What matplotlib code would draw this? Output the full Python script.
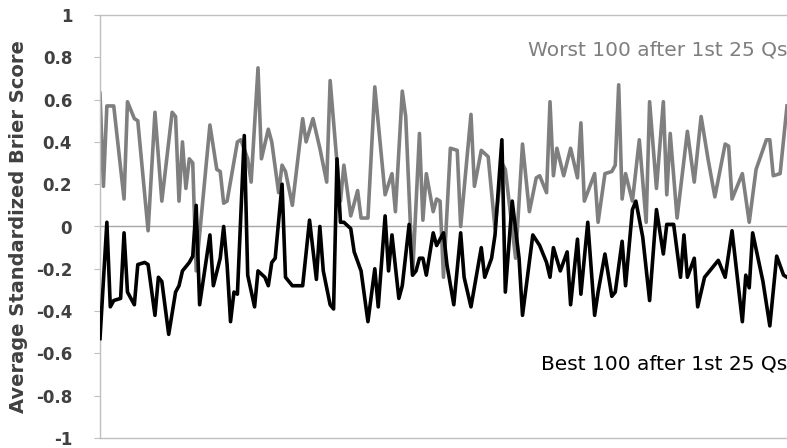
import matplotlib
matplotlib.use("Agg")
import matplotlib.pyplot as plt

plt.rcParams['font.family'] = ['DejaVu Sans']

# Question number (x) and average standardized Brier score (y)
worst_q = [1, 2, 3, 5, 8, 9, 11, 12, 15, 17, 19, 22, 23, 24, 25, 26, 27, 28, 29, 33,
           35, 36, 37, 38, 41, 42, 44, 45, 47, 48, 50, 51, 53, 54, 55, 57, 60, 61, 63, 65,
           67, 68, 70, 71, 72, 74, 76, 77, 79, 81, 84, 86, 87, 89, 90, 92, 94, 95, 96, 98,
           99, 100, 101, 103, 105, 106, 109, 110, 112, 114, 116, 118, 119, 120, 122, 124, 126, 128, 129, 131,
           132, 133, 134, 136, 138, 140, 141, 142, 145, 146, 148, 150, 151, 152, 153, 154, 156, 158, 160, 161,
           163, 165, 166, 167, 169, 172, 174, 176, 178, 180, 183, 184, 185, 188, 190, 192, 195, 196, 197, 199,
           201]
worst_score = [0.63, 0.19, 0.57, 0.57, 0.13, 0.59, 0.51, 0.50, -0.02, 0.54,
               0.12, 0.54, 0.52, 0.12, 0.40, 0.18, 0.32, 0.30, -0.21, 0.48,
               0.27, 0.26, 0.11, 0.12, 0.40, 0.41, 0.32, 0.21, 0.75, 0.32,
               0.46, 0.40, 0.16, 0.29, 0.26, 0.10, 0.51, 0.40, 0.51, 0.37,
               0.21, 0.69, 0.30, 0.12, 0.29, 0.05, 0.17, 0.04, 0.04, 0.66,
               0.15, 0.25, 0.07, 0.64, 0.52, -0.23, 0.44, 0.03, 0.25, 0.07,
               0.13, 0.12, -0.24, 0.37, 0.36, 0.0, 0.53, 0.19, 0.36, 0.33,
               -0.01, 0.30, 0.27, 0.13, -0.15, 0.39, 0.07, 0.23, 0.24, 0.16,
               0.59, 0.24, 0.37, 0.24, 0.37, 0.23, 0.49, 0.12, 0.25, 0.02,
               0.25, 0.26, 0.29, 0.67, 0.13, 0.25, 0.12, 0.41, 0.02, 0.59,
               0.18, 0.59, 0.15, 0.44, 0.04, 0.45, 0.21, 0.52, 0.32, 0.14,
               0.39, 0.38, 0.13, 0.25, 0.02, 0.27, 0.41, 0.41, 0.24, 0.25,
               0.57]

best_q = [1, 3, 4, 5, 7, 8, 9, 11, 12, 14, 15, 17, 18, 19, 21, 23, 24, 25, 27, 28,
          29, 30, 33, 34, 36, 37, 38, 39, 40, 41, 43, 44, 46, 47, 49, 50, 51, 52, 54, 55,
          57, 60, 62, 64, 65, 66, 68, 69, 70, 71, 72, 74, 75, 77, 79, 81, 82, 84, 85, 86,
          88, 89, 91, 92, 93, 94, 95, 96, 98, 99, 100, 101, 102, 104, 106, 107, 109, 112, 113, 115,
          116, 118, 119, 121, 123, 124, 127, 129, 131, 132, 133, 135, 137, 138, 140, 141, 143, 145, 146, 148,
          150, 151, 153, 154, 156, 157, 159, 161, 163, 165, 166, 168, 170, 171, 172, 174, 175, 177, 179, 181,
          183, 185, 188, 189, 190, 191, 194, 196, 198, 200, 201]
best_score = [-0.53, 0.02, -0.38, -0.35, -0.34, -0.03, -0.31, -0.37, -0.18, -0.17,
              -0.18, -0.42, -0.24, -0.26, -0.51, -0.31, -0.28, -0.21, -0.17, -0.14,
              0.10, -0.37, -0.04, -0.28, -0.15, 0.0, -0.18, -0.45, -0.31, -0.32,
              0.43, -0.23, -0.38, -0.21, -0.24, -0.28, -0.17, -0.15, 0.20, -0.24,
              -0.28, -0.28, 0.03, -0.25, 0.0, -0.21, -0.37, -0.39, 0.32, 0.02,
              0.02, -0.01, -0.12, -0.21, -0.45, -0.20, -0.38, 0.05, -0.21, -0.04,
              -0.34, -0.28, 0.01, -0.23, -0.21, -0.15, -0.15, -0.23, -0.03, -0.09,
              -0.06, -0.03, -0.18, -0.37, -0.03, -0.24, -0.38, -0.10, -0.24, -0.15,
              -0.04, 0.41, -0.31, 0.12, -0.15, -0.42, -0.04, -0.09, -0.17, -0.24,
              -0.10, -0.21, -0.12, -0.37, -0.06, -0.32, 0.02, -0.42, -0.31, -0.13,
              -0.33, -0.31, -0.07, -0.28, 0.08, 0.12, -0.05, -0.35, 0.08, -0.13,
              0.01, 0.01, -0.24, -0.04, -0.24, -0.15, -0.38, -0.24, -0.20, -0.16,
              -0.24, -0.02, -0.45, -0.23, -0.29, -0.03, -0.26, -0.47, -0.14, -0.23,
              -0.24]

y_ticks = [-1, -0.8, -0.6, -0.4, -0.2, 0, 0.2, 0.4, 0.6, 0.8, 1]
y_tick_labels = ["-1", "-0.8", "-0.6", "-0.4", "-0.2", "0", "0.2", "0.4", "0.6", "0.8", "1"]

worst_label = "Worst 100 after 1st 25 Qs"
best_label = "Best 100 after 1st 25 Qs"
y_label = "Average Standardized Brier Score"

fig = plt.figure(figsize=(7.87, 4.48), dpi=100)
ax = fig.add_axes([100 / 787, 10 / 448, 687 / 787, 423 / 448])

ax.axhline(0, color="#a6a6a6", lw=1.0, zorder=1)
ax.plot(worst_q, worst_score, color="#7f7f7f", lw=2.6, zorder=2, solid_joinstyle="round")
ax.plot(best_q, best_score, color="#000000", lw=2.6, zorder=3, solid_joinstyle="round")

ax.set_xlim(1, 201)
ax.set_ylim(-1, 1)
ax.set_xticks([])
ax.set_yticks(y_ticks)
ax.set_yticklabels(y_tick_labels, fontsize=12, fontweight="bold", color="#404040")
ax.tick_params(axis="y", length=4, width=0.8, color="#bfbfbf", pad=16)

for side in ["top", "left", "bottom"]:
    ax.spines[side].set_color("#bfbfbf")
    ax.spines[side].set_linewidth(1.0)
ax.spines["right"].set_visible(False)

ax.set_ylabel(y_label, fontsize=14, fontweight="bold", color="#404040", labelpad=6)

ax.text(1.0, 0.918, worst_label, transform=ax.transAxes, ha="right", va="center",
        fontsize=14.5, color="#7f7f7f")
ax.text(1.0, 0.174, best_label, transform=ax.transAxes, ha="right", va="center",
        fontsize=14.5, color="#000000")

fig.savefig("out.png", dpi=100)
